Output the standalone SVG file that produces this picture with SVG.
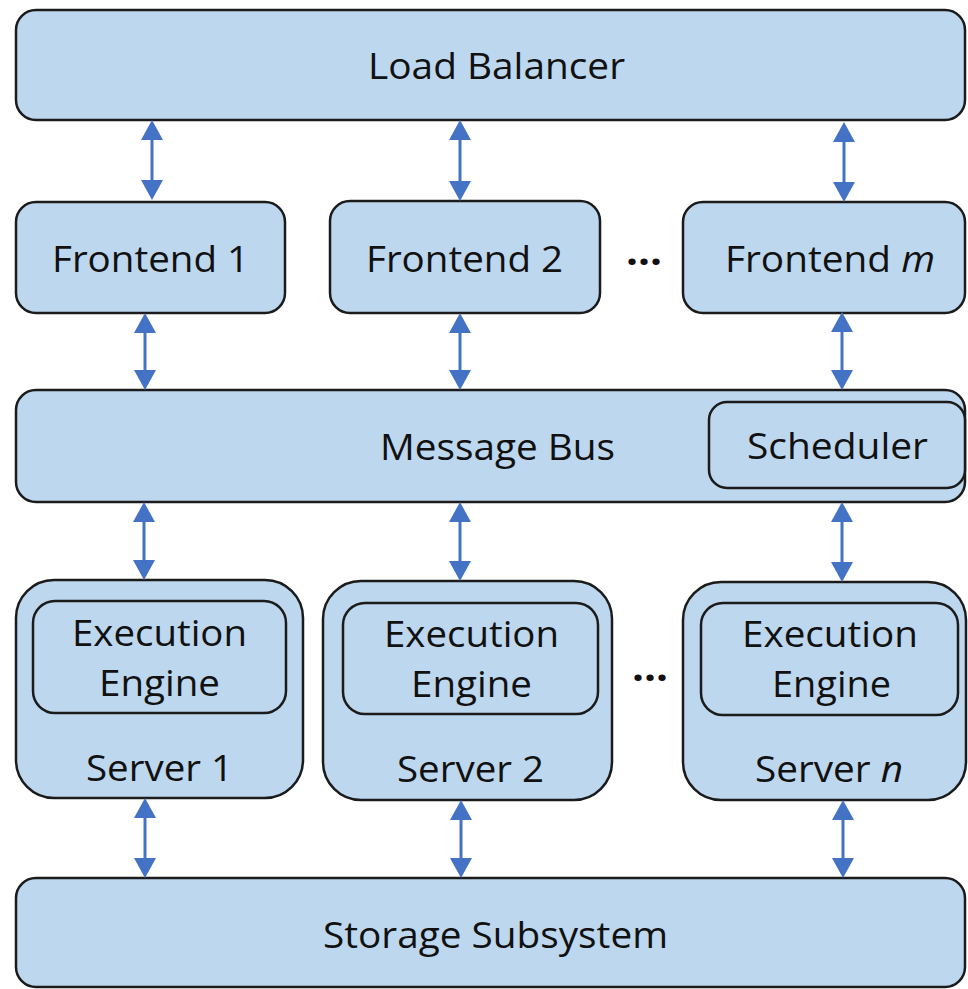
<svg xmlns="http://www.w3.org/2000/svg" width="968" height="989" viewBox="0 0 968 989">
  <defs>
    <style>
      .box { fill: #BDD7EE; stroke: #1b1b1b; stroke-width: 2.5; }
      .lbl { font-family: "Open Sans", "Liberation Sans", sans-serif; font-size: 36px; fill: #111; }
      .it { font-style: italic; }
      .dots { font-family: "Open Sans", "Liberation Sans", sans-serif; font-size: 40px; font-weight: bold; fill: #111; }
      .link { stroke: #4472C4; stroke-width: 3; fill: none; marker-start: url(#head); marker-end: url(#head); }
    </style>
    <marker id="head" viewBox="0 0 20 22" refX="12" refY="11" markerWidth="20" markerHeight="22" markerUnits="userSpaceOnUse" orient="auto-start-reverse">
      <path d="M0,0 L20,11 L0,22 Z" fill="#4472C4"/>
    </marker>
  </defs>

  <rect width="968" height="989" fill="#ffffff"/>

  <g id="load-balancer">
    <rect class="box" x="16" y="10" width="949" height="110" rx="20"/>
    <text class="lbl" x="368" y="79" textLength="257" lengthAdjust="spacingAndGlyphs">Load Balancer</text>
  </g>

  <g id="frontend-1">
    <rect class="box" x="16" y="202" width="269" height="111" rx="20"/>
    <text class="lbl" x="52" y="272" textLength="197" lengthAdjust="spacingAndGlyphs">Frontend 1</text>
  </g>

  <g id="frontend-2">
    <rect class="box" x="330" y="201" width="270" height="112" rx="20"/>
    <text class="lbl" x="366" y="272" textLength="197" lengthAdjust="spacingAndGlyphs">Frontend 2</text>
  </g>

  <text class="dots" x="626" y="265" textLength="36" lengthAdjust="spacingAndGlyphs">…</text>

  <g id="frontend-m">
    <rect class="box" x="683" y="202" width="282" height="111" rx="20"/>
    <text class="lbl" x="725" y="272" textLength="210" lengthAdjust="spacingAndGlyphs">Frontend <tspan class="it">m</tspan></text>
  </g>

  <g id="message-bus">
    <rect class="box" x="16" y="390" width="949" height="112" rx="20"/>
    <text class="lbl" x="380" y="460" textLength="235" lengthAdjust="spacingAndGlyphs">Message Bus</text>
  </g>

  <g id="scheduler">
    <rect class="box" x="709" y="402" width="256" height="86" rx="18"/>
    <text class="lbl" x="747" y="459" textLength="181" lengthAdjust="spacingAndGlyphs">Scheduler</text>
  </g>

  <g id="server-1">
    <rect class="box" x="16" y="580" width="287" height="218" rx="38"/>
    <g id="engine-1">
      <rect class="box" x="33" y="601" width="253" height="112" rx="22"/>
      <text class="lbl" x="72" y="646" textLength="175" lengthAdjust="spacingAndGlyphs">Execution</text>
      <text class="lbl" x="99" y="696" textLength="121" lengthAdjust="spacingAndGlyphs">Engine</text>
    </g>
    <text class="lbl" x="86" y="781" textLength="147" lengthAdjust="spacingAndGlyphs">Server 1</text>
  </g>

  <g id="server-2">
    <rect class="box" x="323" y="581" width="289" height="219" rx="38"/>
    <g id="engine-2">
      <rect class="box" x="343" y="603" width="255" height="111" rx="22"/>
      <text class="lbl" x="384" y="647" textLength="175" lengthAdjust="spacingAndGlyphs">Execution</text>
      <text class="lbl" x="411" y="697" textLength="121" lengthAdjust="spacingAndGlyphs">Engine</text>
    </g>
    <text class="lbl" x="397" y="782" textLength="147" lengthAdjust="spacingAndGlyphs">Server 2</text>
  </g>

  <text class="dots" x="632" y="681" textLength="36" lengthAdjust="spacingAndGlyphs">…</text>

  <g id="server-n">
    <rect class="box" x="683" y="582" width="283" height="218" rx="38"/>
    <g id="engine-n">
      <rect class="box" x="701" y="603" width="257" height="112" rx="22"/>
      <text class="lbl" x="742" y="647" textLength="176" lengthAdjust="spacingAndGlyphs">Execution</text>
      <text class="lbl" x="772" y="697" textLength="119" lengthAdjust="spacingAndGlyphs">Engine</text>
    </g>
    <text class="lbl" x="755" y="782" textLength="148" lengthAdjust="spacingAndGlyphs">Server <tspan class="it">n</tspan></text>
  </g>

  <g id="storage">
    <rect class="box" x="16" y="878" width="949" height="109" rx="20"/>
    <text class="lbl" x="323" y="948" textLength="345" lengthAdjust="spacingAndGlyphs">Storage Subsystem</text>
  </g>

  <g id="connectors">
    <line class="link" x1="152" y1="128" x2="152" y2="192"/>
    <line class="link" x1="460" y1="128" x2="460" y2="193"/>
    <line class="link" x1="844" y1="130" x2="844" y2="194"/>
    <line class="link" x1="145" y1="321" x2="145" y2="382"/>
    <line class="link" x1="460" y1="321" x2="460" y2="382"/>
    <line class="link" x1="842" y1="320" x2="842" y2="382"/>
    <line class="link" x1="144" y1="510" x2="144" y2="572"/>
    <line class="link" x1="460" y1="510" x2="460" y2="573"/>
    <line class="link" x1="842" y1="510" x2="842" y2="574"/>
    <line class="link" x1="145" y1="806" x2="145" y2="870"/>
    <line class="link" x1="461" y1="808" x2="461" y2="870"/>
    <line class="link" x1="843" y1="808" x2="843" y2="870"/>
  </g>
</svg>
